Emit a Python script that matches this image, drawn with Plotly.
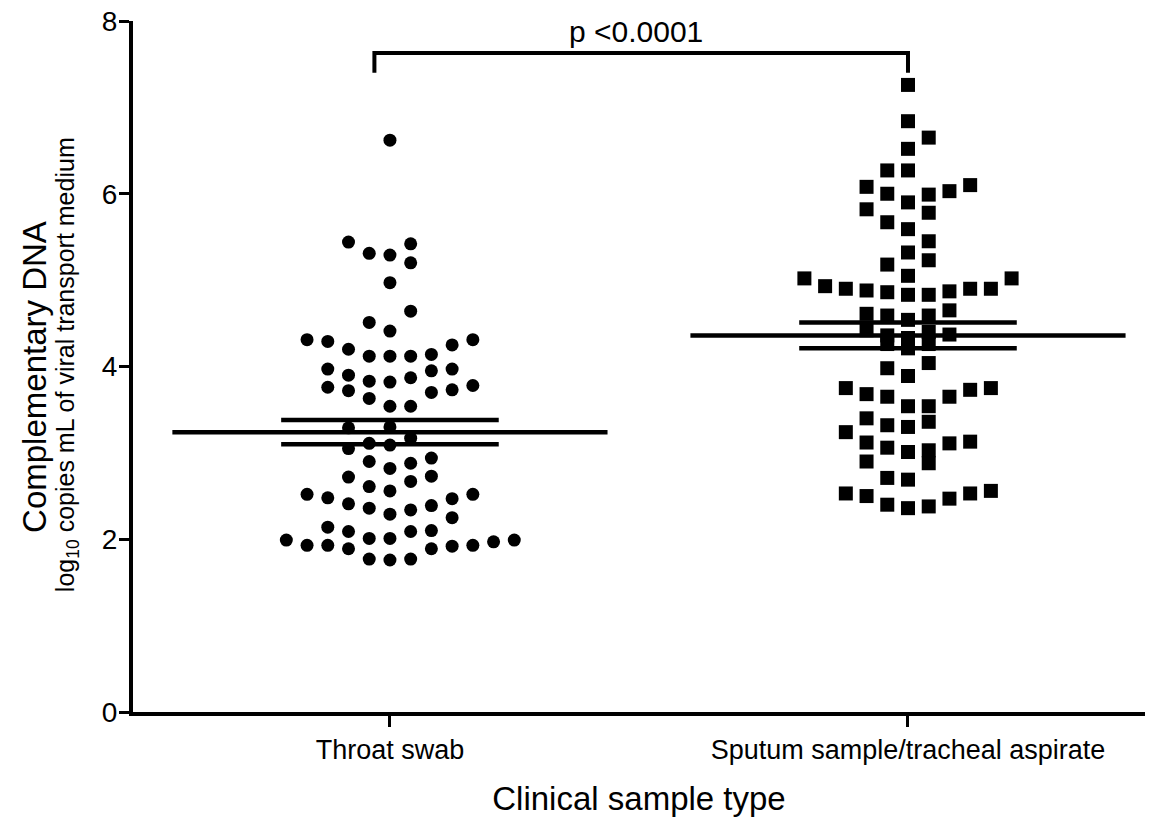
import plotly.graph_objects as go

# ---------------- data ----------------
categories = ["Throat swab", "Sputum sample/tracheal aspirate"]

throat_values = [
    6.62, 5.44, 5.31, 5.29, 5.42, 5.20, 4.97, 4.64, 4.51, 4.41,
    4.31, 4.29, 4.20, 4.12, 4.12, 4.12, 4.14, 4.25, 4.31,
    3.97, 3.90, 3.83, 3.82, 3.87, 3.95, 3.97,
    3.76, 3.72, 3.63, 3.54, 3.54, 3.70, 3.73, 3.78,
    3.29, 3.30, 3.17, 3.11, 3.09, 3.05,
    2.90, 2.82, 2.88, 2.94,
    2.72, 2.61, 2.56, 2.67, 2.73,
    2.52, 2.48, 2.41, 2.36, 2.29, 2.34, 2.39, 2.47, 2.52, 2.25,
    2.14, 2.09, 2.01, 2.01, 2.09, 2.10,
    1.99, 1.93, 1.93, 1.89, 1.89, 1.92, 1.93, 1.97, 1.99,
    1.77, 1.76, 1.77,
]
# beeswarm column index of each point (as laid out in the picture)
throat_cols = [
    0, -2, -1, 0, 1, 1, 0, 1, -1, 0,
    -4, -3, -2, -1, 0, 1, 2, 3, 4,
    -3, -2, -1, 0, 1, 2, 3,
    -3, -2, -1, 0, 1, 2, 3, 4,
    -2, 0, 1, -1, 0, -2,
    -1, 0, 1, 2,
    -2, -1, 0, 1, 2,
    -4, -3, -2, -1, 0, 1, 2, 3, 4, 3,
    -3, -2, -1, 0, 1, 2,
    -5, -4, -3, -2, 2, 3, 4, 5, 6,
    -1, 0, 1,
]

sputum_values = [
    7.26, 6.84, 6.65, 6.52, 6.27, 6.27, 6.08, 6.00, 5.90, 5.99, 6.03, 6.10,
    5.82, 5.78, 5.67, 5.59, 5.45, 5.32, 5.23, 5.18, 5.05,
    5.02, 4.93, 4.90, 4.88, 4.86, 4.83, 4.83, 4.87, 4.90, 4.90, 5.02,
    4.65, 4.61, 4.59, 4.59, 4.54,
    4.42, 4.36, 4.33, 4.40, 4.37, 4.26, 4.21, 4.26,
    3.98, 3.89, 4.04,
    3.75, 3.68, 3.65, 3.54, 3.54, 3.65, 3.73, 3.75,
    3.40, 3.32, 3.30, 3.36,
    3.24, 3.12, 3.06, 3.01, 3.03, 2.88, 3.11, 3.13,
    2.90, 2.71, 2.69,
    2.53, 2.50, 2.40, 2.36, 2.38, 2.47, 2.53, 2.56,
]
sputum_cols = [
    0, 0, 1, 0, -1, 0, -2, -1, 0, 1, 2, 3,
    -2, 1, -1, 0, 1, 0, 1, -1, 0,
    -5, -4, -3, -2, -1, 0, 1, 2, 3, 4, 5,
    2, -2, -1, 1, 0,
    -2, -1, 0, 1, 2, -1, 0, 1,
    -1, 0, 1,
    -3, -2, -1, 0, 1, 2, 3, 4,
    -2, -1, 0, 1,
    -3, -2, -1, 0, 1, 1, 2, 3,
    -2, -1, 0,
    -3, -2, -1, 0, 1, 2, 3, 4,
]

means = [3.24, 4.36]
sem_upper = [3.38, 4.51]
sem_lower = [3.10, 4.21]

p_label = "p <0.0001"
bracket_ends = [-0.03, 1.0]
bracket_top = 7.63
bracket_leg_bottom = 7.40

# ---------------- styling ----------------
FONT = "Liberation Sans, Arial, Helvetica, sans-serif"
COL_STEP = 0.04
MEAN_HALF = 0.42
SEM_HALF = 0.21

fig = go.Figure()

fig.add_trace(go.Scatter(
    x=[0 + c * COL_STEP for c in throat_cols], y=throat_values,
    mode="markers", marker=dict(symbol="circle", size=13, color="black"),
    showlegend=False, hoverinfo="y"))
fig.add_trace(go.Scatter(
    x=[1 + c * COL_STEP for c in sputum_cols], y=sputum_values,
    mode="markers", marker=dict(symbol="square", size=14, color="black"),
    showlegend=False, hoverinfo="y"))

# mean and SEM lines
for i in range(len(categories)):
    fig.add_trace(go.Scatter(
        x=[i - MEAN_HALF, i + MEAN_HALF], y=[means[i], means[i]],
        mode="lines", line=dict(color="black", width=4.5),
        showlegend=False, hoverinfo="skip"))
    for v in (sem_upper[i], sem_lower[i]):
        fig.add_trace(go.Scatter(
            x=[i - SEM_HALF, i + SEM_HALF], y=[v, v],
            mode="lines", line=dict(color="black", width=4.5),
            showlegend=False, hoverinfo="skip"))

# significance bracket
fig.add_trace(go.Scatter(
    x=[bracket_ends[0], bracket_ends[0], bracket_ends[1], bracket_ends[1]],
    y=[bracket_leg_bottom, bracket_top, bracket_top, bracket_leg_bottom],
    mode="lines", line=dict(color="black", width=4),
    showlegend=False, hoverinfo="skip"))

fig.add_annotation(
    x=(bracket_ends[0] + bracket_ends[1]) / 2 - 0.01, y=bracket_top + 0.03,
    xref="x", yref="y", text=p_label, showarrow=False,
    xanchor="center", yanchor="bottom",
    font=dict(family=FONT, size=30, color="black"))

# y-axis title (two lines of different size)
fig.add_annotation(
    x=-0.0968, y=0.485, xref="paper", yref="paper", text="Complementary DNA",
    textangle=-90, showarrow=False, xanchor="center", yanchor="middle",
    font=dict(family=FONT, size=33, color="black"))
fig.add_annotation(
    x=-0.0652, y=0.502, xref="paper", yref="paper",
    text="log<sub>10</sub> copies mL of viral transport medium",
    textangle=-90, showarrow=False, xanchor="center", yanchor="middle",
    font=dict(family=FONT, size=25, color="black"))

fig.update_layout(
    width=1153, height=819,
    margin=dict(l=125, r=16, t=13, b=115),
    paper_bgcolor="white", plot_bgcolor="white",
    font=dict(family=FONT, color="black"),
    xaxis=dict(
        range=[-0.496, 1.4575], tickmode="array", tickvals=[0, 1],
        ticktext=categories, showgrid=False, zeroline=False,
        showline=True, linecolor="black", linewidth=4,
        ticks="outside", ticklen=11, tickwidth=3, tickcolor="black",
        tickfont=dict(family=FONT, size=27, color="black"),
        ticklabeloverflow="allow",
        title=dict(text="Clinical sample type", standoff=23,
                   font=dict(family=FONT, size=33, color="black")),
        automargin=False,
    ),
    yaxis=dict(
        range=[0, 8], tickmode="linear", tick0=0, dtick=2,
        showgrid=False, zeroline=False,
        showline=True, linecolor="black", linewidth=4,
        ticks="outside", ticklen=10, tickwidth=3, tickcolor="black",
        tickfont=dict(family=FONT, size=28, color="black"),
        ticklabelstandoff=-4, ticklabeloverflow="allow",
        automargin=False,
    ),
)

fig.write_html("out.html")
